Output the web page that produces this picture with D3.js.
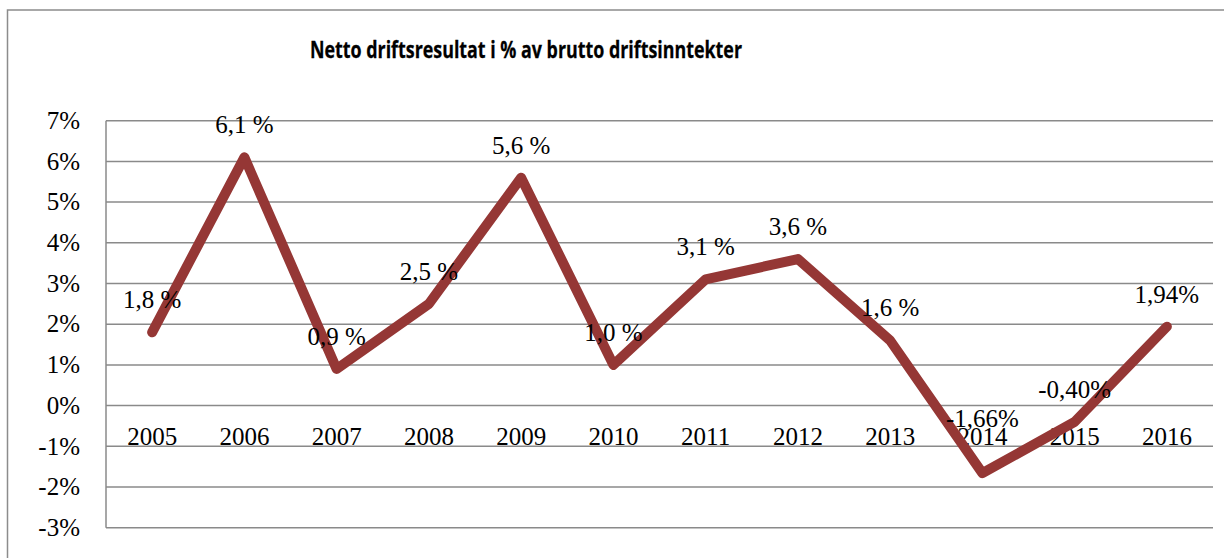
<!DOCTYPE html>
<html>
<head>
<meta charset="utf-8">
<script src="https://cdn.jsdelivr.net/npm/d3@7"></script>
<style>
  html, body { margin: 0; padding: 0; background: #fff; }
  svg { display: block; }
</style>
</head>
<body>
<svg id="chart" width="1224" height="558"></svg>
<script>
const years = ['2005', '2006', '2007', '2008', '2009', '2010', '2011', '2012', '2013', '2014', '2015', '2016'];
const values = [1.8, 6.1, 0.9, 2.5, 5.6, 1.0, 3.1, 3.6, 1.6, -1.66, -0.40, 1.94];
const valueLabels = ['1,8 %', '6,1 %', '0,9 %', '2,5 %', '5,6 %', '1,0 %', '3,1 %', '3,6 %', '1,6 %', '-1,66%', '-0,40%', '1,94%'];
const yTicks = [7, 6, 5, 4, 3, 2, 1, 0, -1, -2, -3];
const title = 'Netto driftsresultat i % av brutto driftsinntekter';

(function drawChart() {
  const svg = d3.select('#chart');
  const plotLeft = 106, plotRight = 1213, plotTop = 120.7, plotBottom = 527.7;
  const serif = '"Liberation Serif", "Times New Roman", serif';
  const lineColor = '#953735';

  // outer frame, cropped on the right and bottom like the original
  svg.append('rect')
    .attr('x', 7.5).attr('y', 10)
    .attr('width', 1300).attr('height', 700)
    .attr('fill', 'none')
    .attr('stroke', '#8c8c8c')
    .attr('stroke-width', 1.5);

  // Calibri isn't around, so squeeze a bold sans into the original's width
  svg.append('text')
    .attr('x', 526).attr('y', 57.5)
    .attr('text-anchor', 'middle')
    .attr('font-family', '"Open Sans", "Liberation Sans", sans-serif')
    .attr('font-weight', 'bold')
    .attr('font-size', 24)
    .attr('stroke', '#000')
    .attr('stroke-width', 0.3)
    .attr('textLength', 432)
    .attr('lengthAdjust', 'spacingAndGlyphs')
    .text(title);

  const x = d3.scaleBand().domain(years).range([plotLeft, plotRight]);
  const y = d3.scaleLinear().domain([-3, 7]).range([plotBottom, plotTop]);
  const cx = d => x(d) + x.bandwidth() / 2;

  // gridlines
  svg.append('g')
    .selectAll('line')
    .data(yTicks)
    .join('line')
    .attr('x1', plotLeft).attr('x2', plotRight)
    .attr('y1', d => y(d)).attr('y2', d => y(d))
    .attr('stroke', '#8a8a8a')
    .attr('stroke-width', 1.5);

  svg.append('line')
    .attr('x1', plotLeft).attr('x2', plotLeft)
    .attr('y1', plotTop).attr('y2', plotBottom)
    .attr('stroke', '#8a8a8a')
    .attr('stroke-width', 1.5);

  // y axis labels
  svg.append('g')
    .selectAll('text')
    .data(yTicks)
    .join('text')
    .attr('x', 80)
    .attr('y', d => y(d))
    .attr('dy', '0.33em')
    .attr('text-anchor', 'end')
    .attr('font-family', serif)
    .attr('font-size', 25)
    .text(d => `${d}%`);

  // category labels sit just under the zero line
  svg.append('g')
    .selectAll('text')
    .data(years)
    .join('text')
    .attr('x', cx)
    .attr('y', y(0) + 39)
    .attr('text-anchor', 'middle')
    .attr('font-family', serif)
    .attr('font-size', 25)
    .text(d => d);

  const pts = years.map((yr, i) => ({ yr, v: values[i], label: valueLabels[i] }));

  const line = d3.line()
    .x(d => cx(d.yr))
    .y(d => y(d.v));

  svg.append('path')
    .datum(pts)
    .attr('d', line)
    .attr('fill', 'none')
    .attr('stroke', lineColor)
    .attr('stroke-width', 10)
    .attr('stroke-linecap', 'round')
    .attr('stroke-linejoin', 'round');

  // data labels above points; the 2014 one was dragged higher in the original
  svg.append('g')
    .selectAll('text')
    .data(pts)
    .join('text')
    .attr('x', d => cx(d.yr))
    .attr('y', d => y(d.v) - (d.yr === '2014' ? 46 : 24))
    .attr('text-anchor', 'middle')
    .attr('font-family', serif)
    .attr('font-size', 25)
    .text(d => d.label);
})();
</script>
</body>
</html>
